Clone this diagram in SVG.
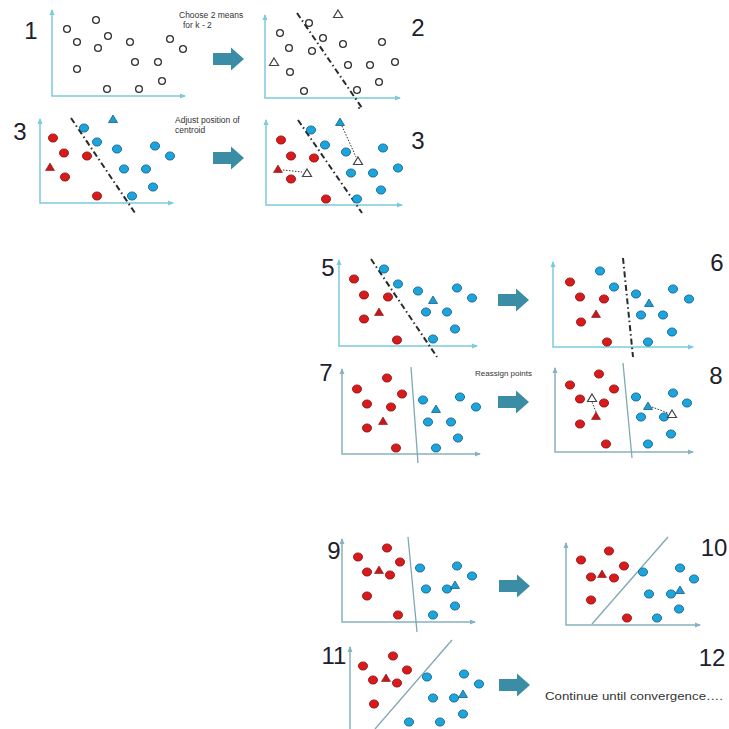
<svg xmlns="http://www.w3.org/2000/svg" xmlns:xlink="http://www.w3.org/1999/xlink" width="729" height="729" viewBox="0 0 729 729">
<style>
.ax{fill:none;stroke:#7ccadb;stroke-width:1.5}
.ax2{fill:none;stroke:#86b3bf;stroke-width:1.5}
.dd{stroke:#2a2a2a;stroke-width:2;stroke-dasharray:6 3 1.5 3;fill:none}
.dt{stroke:#333;stroke-width:1;stroke-dasharray:1.5 1.5;fill:none}
.sep{stroke:#7fa8b3;stroke-width:1.3;fill:none}
.num{font-family:"Liberation Sans",Arial,sans-serif;font-size:24px;fill:#20202c;text-anchor:middle}
.cap{font-family:"Liberation Sans",Arial,sans-serif;fill:#333}
.arw{fill:#3a8da4}
</style>
<defs>
<marker id="ah" viewBox="0 0 6 6" refX="5" refY="3" markerWidth="6" markerHeight="6" markerUnits="userSpaceOnUse" orient="auto-start-reverse"><path d="M0,0.5 L6,3 L0,5.5 Z" fill="#7ccadb"/></marker>
<marker id="ah2" viewBox="0 0 6 6" refX="5" refY="3" markerWidth="6" markerHeight="6" markerUnits="userSpaceOnUse" orient="auto-start-reverse"><path d="M0,0.5 L6,3 L0,5.5 Z" fill="#86b3bf"/></marker>
<circle id="o" r="3.4" fill="#fff" stroke="#333" stroke-width="1.3"/>
<ellipse id="r" rx="4.6" ry="4.1" fill="#d71a1c" stroke="#961213" stroke-width="0.8"/>
<ellipse id="b" rx="4.6" ry="4.1" fill="#1ca4dc" stroke="#175d8a" stroke-width="0.8"/>
<path id="rt" d="M0,-4 L4.5,3.5 L-4.5,3.5 Z" fill="#c4161b" stroke="#8a1013" stroke-width="0.6"/>
<path id="bt" d="M0,-4 L4.5,3.5 L-4.5,3.5 Z" fill="#1a9fd2" stroke="#175d8a" stroke-width="0.8"/>
<path id="ot" d="M0,-4 L4.5,3.5 L-4.5,3.5 Z" fill="#fff" stroke="#444" stroke-width="1.2"/>
<path id="arrow" d="M0,-6 L18,-6 L18,-11.5 L31,0 L18,11.5 L18,6 L0,6 Z"/>
</defs>
<rect width="729" height="729" fill="#fff"/>

<g id="panel1">
<path class="ax" d="M52,10 L52,96 L185,96" marker-start="url(#ah)" marker-end="url(#ah)"/>
<text class="num" x="31" y="39">1</text>
<use href="#o" x="67" y="29"/><use href="#o" x="96" y="20"/><use href="#o" x="77" y="42"/><use href="#o" x="108" y="36"/><use href="#o" x="98" y="48"/><use href="#o" x="130" y="42"/><use href="#o" x="170" y="39"/><use href="#o" x="183" y="49"/><use href="#o" x="135" y="62"/><use href="#o" x="158" y="62"/><use href="#o" x="77" y="69"/><use href="#o" x="162" y="81"/><use href="#o" x="107" y="89"/><use href="#o" x="139" y="89"/>
<text class="cap" x="179" y="18" font-size="8.5">Choose 2 means</text>
<text class="cap" x="183" y="28" font-size="8.5">for k - 2</text>
</g>

<g id="panel2">
<path class="ax" d="M265,15 L265,98 L400,98" marker-start="url(#ah)" marker-end="url(#ah)"/>
<text class="num" x="418" y="36">2</text>
<line class="dd" x1="297" y1="13" x2="362" y2="108"/>
<use href="#o" x="309" y="23"/><use href="#o" x="280" y="33"/><use href="#o" x="323" y="38"/><use href="#o" x="289" y="48"/><use href="#o" x="312" y="51"/><use href="#o" x="343" y="44"/><use href="#o" x="382" y="42"/><use href="#o" x="290" y="72"/><use href="#o" x="348" y="65"/><use href="#o" x="370" y="65"/><use href="#o" x="395" y="62"/><use href="#o" x="379" y="82"/><use href="#o" x="304" y="91"/><use href="#o" x="357" y="90"/>
<use href="#ot" x="338" y="14"/><use href="#ot" x="274" y="62"/>
</g>

<g id="panel3">
<path class="ax" d="M40,119 L40,203 L173,203" marker-start="url(#ah)" marker-end="url(#ah)"/>
<text class="num" x="20" y="140">3</text>
<line class="dd" x1="71" y1="118" x2="135" y2="213"/>
<use href="#r" x="53" y="138"/><use href="#r" x="64" y="153"/><use href="#r" x="87" y="156"/><use href="#r" x="65" y="177"/><use href="#r" x="97" y="196"/>
<use href="#rt" x="50" y="167"/>
<use href="#b" x="84" y="128"/><use href="#b" x="97" y="142"/><use href="#b" x="117" y="149"/><use href="#b" x="155" y="146"/><use href="#b" x="170" y="156"/><use href="#b" x="124" y="169"/><use href="#b" x="146" y="169"/><use href="#b" x="153" y="187"/><use href="#b" x="132" y="196"/>
<use href="#bt" x="113" y="119"/>
<text class="cap" x="175" y="123" font-size="8.5">Adjust position of</text>
<text class="cap" x="175" y="133" font-size="8.5">centroid</text>
</g>

<g id="panel4">
<path class="ax" d="M266,120 L266,205 L402,205" marker-start="url(#ah)" marker-end="url(#ah)"/>
<text class="num" x="418" y="149">3</text>
<line class="dd" x1="298" y1="120" x2="362" y2="213"/>
<circle cx="359" cy="108" r="1" fill="#333"/>
<line class="dt" x1="283" y1="170" x2="302" y2="172"/>
<line class="dt" x1="342" y1="126" x2="356" y2="157"/>
<use href="#r" x="281" y="140"/><use href="#r" x="291" y="156"/><use href="#r" x="314" y="158"/><use href="#r" x="291" y="179"/><use href="#r" x="326" y="199"/>
<use href="#rt" x="278" y="169"/><use href="#ot" x="307" y="173"/>
<use href="#b" x="311" y="130"/><use href="#b" x="325" y="145"/><use href="#b" x="346" y="152"/><use href="#b" x="383" y="148"/><use href="#b" x="398" y="168"/><use href="#b" x="351" y="173"/><use href="#b" x="373" y="173"/><use href="#b" x="381" y="190"/><use href="#b" x="357" y="199"/>
<use href="#bt" x="340" y="122"/><use href="#ot" x="358" y="161"/>
</g>

<g id="panel5">
<path class="ax" d="M339,260 L339,346 L477,346" marker-start="url(#ah)" marker-end="url(#ah)"/>
<text class="num" x="328" y="276">5</text>
<line class="dd" x1="371" y1="259" x2="437" y2="357"/>
<use href="#r" x="354" y="279"/><use href="#r" x="364" y="295"/><use href="#r" x="388" y="297"/><use href="#r" x="364" y="319"/><use href="#r" x="397" y="340"/>
<use href="#rt" x="379" y="312"/>
<use href="#b" x="384" y="269"/><use href="#b" x="398" y="284"/><use href="#b" x="418" y="291"/><use href="#b" x="457" y="288"/><use href="#b" x="472" y="298"/><use href="#b" x="426" y="312"/><use href="#b" x="447" y="312"/><use href="#b" x="455" y="329"/><use href="#b" x="433" y="339"/>
<use href="#bt" x="433" y="300"/>
</g>

<g id="panel6">
<path class="ax" d="M553,262 L553,347 L693,347" marker-start="url(#ah)" marker-end="url(#ah)"/>
<text class="num" x="717" y="271">6</text>
<line class="dd" x1="623" y1="258" x2="633" y2="357"/>
<use href="#r" x="570" y="282"/><use href="#r" x="580" y="297"/><use href="#r" x="604" y="299"/><use href="#r" x="581" y="322"/><use href="#r" x="607" y="342"/>
<use href="#rt" x="596" y="314"/>
<use href="#b" x="600" y="271"/><use href="#b" x="614" y="287"/><use href="#b" x="636" y="294"/><use href="#b" x="673" y="289"/><use href="#b" x="689" y="299"/><use href="#b" x="641" y="315"/><use href="#b" x="663" y="315"/><use href="#b" x="672" y="332"/><use href="#b" x="648" y="342"/>
<use href="#bt" x="649" y="303"/>
</g>

<g id="panel7">
<path class="ax2" d="M342,369 L342,454 L480,454" marker-start="url(#ah2)" marker-end="url(#ah2)"/>
<text class="num" x="326" y="381">7</text>
<line class="sep" x1="411" y1="367" x2="418" y2="463"/>
<use href="#r" x="387" y="378"/><use href="#r" x="357" y="389"/><use href="#r" x="402" y="394"/><use href="#r" x="367" y="404"/><use href="#r" x="391" y="407"/><use href="#r" x="367" y="428"/><use href="#r" x="396" y="448"/>
<use href="#rt" x="383" y="421"/>
<use href="#b" x="423" y="400"/><use href="#b" x="460" y="397"/><use href="#b" x="476" y="407"/><use href="#b" x="428" y="422"/><use href="#b" x="451" y="422"/><use href="#b" x="458" y="438"/><use href="#b" x="436" y="448"/>
<use href="#bt" x="436" y="409"/>
<text class="cap" x="475" y="376" font-size="8">Reassign points</text>
</g>

<g id="panel8">
<path class="ax2" d="M555,368 L555,452 L693,452" marker-start="url(#ah2)" marker-end="url(#ah2)"/>
<text class="num" x="716" y="384">8</text>
<line class="sep" x1="623" y1="363" x2="632" y2="458"/>
<line class="dt" x1="596" y1="412" x2="592" y2="402"/>
<line class="dt" x1="652" y1="407" x2="668" y2="413"/>
<use href="#r" x="570" y="385"/><use href="#r" x="599" y="374"/><use href="#r" x="614" y="389"/><use href="#r" x="580" y="399"/><use href="#r" x="604" y="403"/><use href="#r" x="580" y="424"/><use href="#r" x="606" y="444"/>
<use href="#rt" x="596" y="416"/><use href="#ot" x="592" y="398"/>
<use href="#b" x="636" y="397"/><use href="#b" x="673" y="393"/><use href="#b" x="687" y="403"/><use href="#b" x="641" y="417"/><use href="#b" x="664" y="417"/><use href="#b" x="671" y="434"/><use href="#b" x="648" y="444"/>
<use href="#bt" x="648" y="406"/><use href="#ot" x="672" y="414"/>
</g>

<g id="panel9">
<path class="ax2" d="M342,539 L342,622 L475,622" marker-start="url(#ah2)" marker-end="url(#ah2)"/>
<text class="num" x="334" y="559">9</text>
<line class="sep" x1="408" y1="537" x2="417" y2="632"/>
<use href="#r" x="387" y="548"/><use href="#r" x="358" y="557"/><use href="#r" x="400" y="562"/><use href="#r" x="367" y="572"/><use href="#r" x="390" y="575"/><use href="#r" x="367" y="596"/><use href="#r" x="398" y="615"/>
<use href="#rt" x="379" y="570"/>
<use href="#b" x="420" y="568"/><use href="#b" x="457" y="566"/><use href="#b" x="472" y="576"/><use href="#b" x="426" y="589"/><use href="#b" x="447" y="589"/><use href="#b" x="455" y="606"/><use href="#b" x="433" y="615"/>
<use href="#bt" x="455" y="585"/>
</g>

<g id="panel10">
<path class="ax2" d="M566,543 L566,625 L700,625" marker-start="url(#ah2)" marker-end="url(#ah2)"/>
<text class="num" x="714" y="556">10</text>
<line class="sep" x1="592" y1="624" x2="668" y2="537"/>
<use href="#r" x="581" y="560"/><use href="#r" x="609" y="551"/><use href="#r" x="624" y="566"/><use href="#r" x="591" y="577"/><use href="#r" x="614" y="578"/><use href="#r" x="591" y="600"/><use href="#r" x="627" y="618"/>
<use href="#rt" x="602" y="574"/>
<use href="#b" x="643" y="572"/><use href="#b" x="680" y="568"/><use href="#b" x="694" y="579"/><use href="#b" x="649" y="594"/><use href="#b" x="671" y="594"/><use href="#b" x="679" y="609"/><use href="#b" x="657" y="618"/>
<use href="#bt" x="680" y="590"/>
</g>

<g id="panel11">
<path class="ax2" d="M350,647 L350,735" marker-start="url(#ah2)"/>
<text class="num" x="334" y="664">11</text>
<line class="sep" x1="375" y1="729" x2="452" y2="640"/>
<use href="#r" x="363" y="666"/><use href="#r" x="393" y="656"/><use href="#r" x="407" y="670"/><use href="#r" x="373" y="680"/><use href="#r" x="397" y="683"/><use href="#r" x="374" y="704"/>
<use href="#rt" x="386" y="678"/>
<use href="#b" x="427" y="677"/><use href="#b" x="464" y="674"/><use href="#b" x="479" y="684"/><use href="#b" x="433" y="698"/><use href="#b" x="454" y="698"/><use href="#b" x="463" y="714"/><use href="#b" x="409" y="722"/><use href="#b" x="440" y="722"/>
<use href="#bt" x="463" y="694"/>
</g>

<g id="panel12">
<text class="num" x="712" y="666">12</text>
<text class="cap" x="545" y="700" font-size="10.5" textLength="178" lengthAdjust="spacingAndGlyphs">Continue until convergence….</text>
</g>

<g id="connectors" class="arw">
<use href="#arrow" x="213" y="59"/>
<use href="#arrow" x="213" y="158"/>
<use href="#arrow" x="498" y="300"/>
<use href="#arrow" x="498" y="402"/>
<use href="#arrow" x="499" y="586"/>
<use href="#arrow" x="499" y="685"/>
</g>
</svg>
